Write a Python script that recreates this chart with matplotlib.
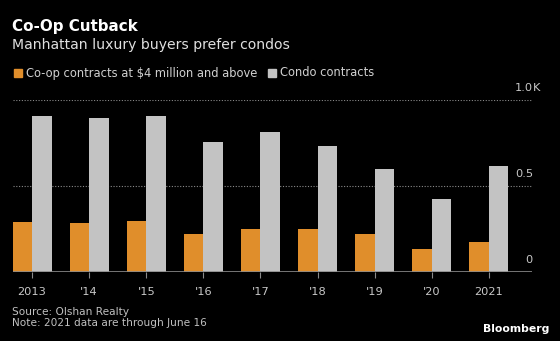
import numpy as np
import matplotlib
matplotlib.use("Agg")
from matplotlib import pyplot as plt
from matplotlib.patches import Rectangle

years = ["2013", "'14", "'15", "'16", "'17", "'18", "'19", "'20", "2021"]
coop = [291, 282, 295, 219, 250, 250, 219, 134, 175]
condo = [909, 893, 908, 754, 814, 732, 596, 421, 617]
ytick_vals = [0, 500, 1000]
ytick_text = ["0", "0.5", "1.0"]

W, H = 560, 341
ORANGE = "#e08e2b"
GRAY = "#c3c3c3"


def px(x, y):
    # pixel coords (from top-left) -> figure fraction
    return x / W, 1 - y / H


fig = plt.figure(figsize=(W / 100, H / 100), dpi=100, facecolor="black")
plt.rcParams["font.family"] = "DejaVu Sans"

left, right, top, bottom = 12.5, 532, 100, 271.7
ax = fig.add_axes([left / W, 1 - bottom / H, (right - left) / W, (bottom - top) / H])
ax.set_facecolor("black")

x = np.arange(len(years))
w = 0.343
ax.bar(x - w / 2, coop, width=w, color=ORANGE, zorder=2)
ax.bar(x + w / 2, condo, width=w, color=GRAY, zorder=2)

ax.set_xlim(-0.343, len(years) - 1 + 0.755)
ax.set_ylim(0, 1000)

for v in ytick_vals[1:]:
    ax.axhline(v, color="#8a8a8a", lw=0.8, ls=(0, (1, 1.5)), zorder=1)
ax.axhline(0, color="#8a8a8a", lw=1.2, zorder=3)

for s in ax.spines.values():
    s.set_visible(False)
ax.set_yticks([])
ax.set_xticks(x)
ax.set_xticklabels(years)
ax.tick_params(axis="x", colors="#8a8a8a", length=4, width=0.8, pad=7,
               labelsize=8.2, labelcolor="#c8c8c8")

# y labels sit above their gridlines at the right
for v, t in zip(ytick_vals, ytick_text):
    yy = bottom - (bottom - top) * v / 1000 - 12
    fig.text(*px(533, yy), t, color="#c8c8c8", fontsize=8.2, ha="right", va="center")
fig.text(*px(533, top - 12), "K", color="#c8c8c8", fontsize=8.2, ha="left", va="center")

fig.text(*px(12, 27), "Co-Op Cutback", color="white", fontsize=10.9,
         fontweight="bold", ha="left", va="center")
fig.text(*px(12, 45.5), "Manhattan luxury buyers prefer condos", color="#e0e0e0",
         fontsize=10.1, ha="left", va="center")

# legend
fig.patches.append(Rectangle(px(13.5, 77), 8 / W, 8 / H, transform=fig.transFigure,
                             color=ORANGE))
fig.text(*px(26.5, 73), "Co-op contracts at $4 million and above", color="#d0d0d0",
         fontsize=8.3, ha="left", va="center")
fig.patches.append(Rectangle(px(268, 77), 8 / W, 8 / H, transform=fig.transFigure,
                             color=GRAY))
fig.text(*px(280.5, 73), "Condo contracts", color="#d0d0d0",
         fontsize=8.3, ha="left", va="center")

fig.text(*px(12, 312), "Source: Olshan Realty", color="#c0c0c0", fontsize=7.6,
         ha="left", va="center")
fig.text(*px(12, 323.5), "Note: 2021 data are through June 16", color="#c0c0c0",
         fontsize=7.6, ha="left", va="center")
fig.text(*px(549, 329), "Bloomberg", color="white", fontsize=7.8, fontweight="bold",
         ha="right", va="center")

fig.savefig("out.png", dpi=100, facecolor="black")
